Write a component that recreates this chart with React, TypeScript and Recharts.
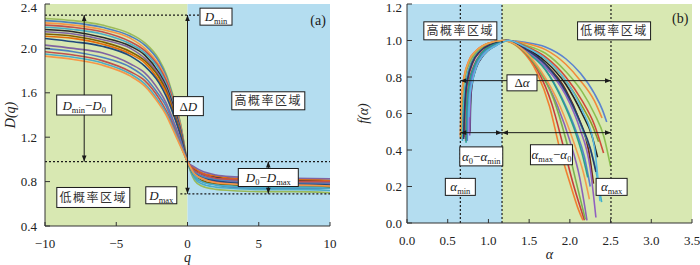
import React from 'react';
import { LineChart, Line, XAxis, YAxis, ReferenceArea, ReferenceLine, ReferenceDot } from 'recharts';

// ---------- panel (a): D(q) ----------
const qValues = [-10, -8, -6, -4, -3, -2, -1.5, -1, -0.5, 0, 0.5, 1, 2, 3, 5, 7.5, 10];
const qTicks = [-10, -5, 0, 5, 10];
const dTicks = [0.4, 0.8, 1.2, 1.6, 2.0, 2.4];

// one row per sample, values at qValues
const dqCurves = [
  [2.27, 2.25, 2.21, 2.13, 2.05, 1.9, 1.77, 1.57, 1.33, 0.98, 0.81, 0.76, 0.73, 0.72, 0.71, 0.71, 0.7],
  [2.25, 2.23, 2.19, 2.11, 2.03, 1.88, 1.75, 1.55, 1.32, 0.98, 0.84, 0.8, 0.77, 0.75, 0.74, 0.74, 0.74],
  [2.23, 2.21, 2.17, 2.09, 2.0, 1.85, 1.73, 1.53, 1.31, 0.98, 0.9, 0.86, 0.83, 0.81, 0.8, 0.8, 0.79],
  [2.21, 2.19, 2.15, 2.06, 1.98, 1.83, 1.71, 1.52, 1.29, 0.98, 0.87, 0.83, 0.8, 0.79, 0.78, 0.77, 0.77],
  [2.19, 2.17, 2.13, 2.04, 1.96, 1.81, 1.68, 1.5, 1.28, 0.98, 0.83, 0.78, 0.75, 0.74, 0.73, 0.73, 0.72],
  [2.17, 2.15, 2.1, 2.02, 1.94, 1.78, 1.66, 1.48, 1.27, 0.98, 0.91, 0.87, 0.84, 0.83, 0.82, 0.81, 0.81],
  [2.15, 2.13, 2.08, 2.0, 1.91, 1.76, 1.64, 1.46, 1.26, 0.98, 0.88, 0.85, 0.81, 0.8, 0.79, 0.78, 0.78],
  [2.13, 2.11, 2.06, 1.97, 1.89, 1.74, 1.62, 1.44, 1.24, 0.98, 0.85, 0.81, 0.78, 0.77, 0.76, 0.75, 0.75],
  [2.11, 2.09, 2.04, 1.95, 1.87, 1.71, 1.6, 1.42, 1.23, 0.98, 0.92, 0.88, 0.85, 0.83, 0.82, 0.82, 0.81],
  [2.09, 2.06, 2.02, 1.93, 1.84, 1.69, 1.57, 1.41, 1.22, 0.98, 0.88, 0.84, 0.81, 0.79, 0.78, 0.78, 0.77],
  [2.03, 2.0, 1.96, 1.86, 1.78, 1.62, 1.51, 1.35, 1.18, 0.98, 0.93, 0.895, 0.86, 0.845, 0.835, 0.83, 0.825],
  [2.0, 1.97, 1.92, 1.83, 1.74, 1.58, 1.48, 1.32, 1.16, 0.98, 0.89, 0.85, 0.82, 0.81, 0.8, 0.79, 0.79],
  [1.97, 1.94, 1.89, 1.79, 1.71, 1.55, 1.44, 1.3, 1.14, 0.98, 0.9, 0.87, 0.83, 0.82, 0.81, 0.8, 0.8],
  [1.95, 1.92, 1.87, 1.77, 1.68, 1.52, 1.42, 1.28, 1.13, 0.98, 0.85, 0.8, 0.77, 0.76, 0.75, 0.75, 0.74],
  [1.93, 1.9, 1.85, 1.75, 1.66, 1.5, 1.4, 1.26, 1.12, 0.98, 0.87, 0.83, 0.79, 0.78, 0.77, 0.77, 0.76],
];
const dqColors = [
  '#9bbb59', '#4f81bd', '#f79646', '#c0504d', '#4bacc6', '#2b2b2b', '#8064a2', '#7f6000',
  '#e46c0a', '#1f497d', '#8064a2', '#4f81bd', '#c0504d', '#4bacc6', '#f79646',
];

// ---------- panel (b): f(alpha) ----------
const aTicks = [0, 0.5, 1.0, 1.5, 2.0, 2.5, 3.0, 3.5];
const fTicks = [0, 0.2, 0.4, 0.6, 0.8, 1.0, 1.2];

// [alpha, f] pairs per curve
const faCurves: number[][][] = [
  [[0.68, 0.46], [0.69, 0.6], [0.705, 0.71], [0.73, 0.79], [0.79, 0.88], [0.88, 0.94], [1.02, 0.98], [1.2, 1.0], [1.45, 0.99], [1.7, 0.965], [1.95, 0.9], [2.13, 0.82], [2.3, 0.71], [2.4, 0.62], [2.452, 0.554]],
  [[0.655, 0.47], [0.66, 0.6], [0.675, 0.72], [0.7, 0.8], [0.76, 0.89], [0.85, 0.945], [1.0, 0.985], [1.18, 1.0], [1.45, 0.985], [1.7, 0.95], [1.95, 0.87], [2.13, 0.78], [2.3, 0.67], [2.395, 0.575]],
  [[0.66, 0.48], [0.665, 0.6], [0.68, 0.71], [0.71, 0.8], [0.77, 0.88], [0.86, 0.94], [1.0, 0.98], [1.2, 1.0], [1.45, 0.975], [1.7, 0.93], [1.95, 0.83], [2.15, 0.72], [2.3, 0.6], [2.42, 0.47], [2.5, 0.31]],
  [[0.72, 0.45], [0.725, 0.58], [0.735, 0.68], [0.76, 0.77], [0.82, 0.86], [0.91, 0.93], [1.05, 0.975], [1.23, 1.0], [1.45, 0.97], [1.7, 0.91], [1.95, 0.8], [2.15, 0.67], [2.3, 0.54], [2.414, 0.383]],
  [[0.69, 0.47], [0.7, 0.6], [0.715, 0.71], [0.74, 0.79], [0.8, 0.88], [0.89, 0.94], [1.03, 0.98], [1.21, 1.0], [1.45, 0.965], [1.7, 0.9], [1.95, 0.78], [2.15, 0.64], [2.28, 0.53], [2.353, 0.445]],
  [[0.775, 0.5], [0.778, 0.6], [0.785, 0.69], [0.8, 0.76], [0.85, 0.85], [0.94, 0.92], [1.08, 0.97], [1.25, 1.0], [1.45, 0.96], [1.7, 0.885], [1.95, 0.76], [2.15, 0.6], [2.27, 0.48], [2.34, 0.36]],
  [[0.73, 0.46], [0.735, 0.58], [0.745, 0.68], [0.77, 0.77], [0.83, 0.86], [0.92, 0.93], [1.06, 0.975], [1.24, 1.0], [1.45, 0.955], [1.7, 0.87], [1.95, 0.73], [2.12, 0.56], [2.23, 0.4], [2.29, 0.216]],
  [[0.68, 0.45], [0.69, 0.59], [0.705, 0.7], [0.73, 0.78], [0.79, 0.87], [0.88, 0.935], [1.02, 0.975], [1.2, 1.0], [1.45, 0.95], [1.7, 0.86], [1.95, 0.71], [2.15, 0.52], [2.3, 0.33], [2.39, 0.115]],
  [[0.765, 0.49], [0.768, 0.6], [0.775, 0.69], [0.79, 0.76], [0.84, 0.85], [0.93, 0.92], [1.07, 0.97], [1.24, 1.0], [1.45, 0.93], [1.65, 0.82], [1.85, 0.64], [2.0, 0.45], [2.12, 0.25], [2.21, 0.015]],
  [[0.66, 0.46], [0.665, 0.6], [0.68, 0.72], [0.705, 0.8], [0.765, 0.89], [0.855, 0.945], [1.0, 0.985], [1.17, 1.0], [1.4, 0.95], [1.6, 0.82], [1.75, 0.64], [1.88, 0.4], [2.0, 0.22], [2.1, 0.08], [2.16, 0.015]],
  [[0.7, 0.47], [0.71, 0.6], [0.725, 0.71], [0.75, 0.79], [0.81, 0.88], [0.9, 0.94], [1.04, 0.98], [1.21, 1.0], [1.4, 0.955], [1.6, 0.84], [1.78, 0.65], [1.92, 0.42], [2.05, 0.2], [2.18, 0.015]],
  [[0.74, 0.45], [0.745, 0.58], [0.755, 0.68], [0.78, 0.77], [0.84, 0.86], [0.93, 0.93], [1.07, 0.975], [1.24, 1.0], [1.45, 0.945], [1.7, 0.84], [1.92, 0.67], [2.08, 0.5], [2.18, 0.36], [2.25, 0.2]],
  [[0.77, 0.48], [0.773, 0.6], [0.78, 0.69], [0.795, 0.76], [0.845, 0.85], [0.935, 0.92], [1.075, 0.97], [1.25, 1.0], [1.45, 0.95], [1.7, 0.855], [1.95, 0.7], [2.12, 0.52], [2.25, 0.3], [2.32, 0.03]],
  [[0.725, 0.44], [0.73, 0.58], [0.74, 0.68], [0.765, 0.77], [0.825, 0.86], [0.915, 0.93], [1.055, 0.975], [1.23, 1.0], [1.45, 0.94], [1.7, 0.84], [1.9, 0.68], [2.05, 0.52], [2.15, 0.38], [2.22, 0.25]],
  [[0.695, 0.46], [0.705, 0.6], [0.72, 0.71], [0.745, 0.79], [0.805, 0.88], [0.895, 0.94], [1.035, 0.98], [1.21, 1.0], [1.45, 0.955], [1.7, 0.87], [1.95, 0.72], [2.13, 0.55], [2.25, 0.41], [2.32, 0.28]],
  [[0.665, 0.47], [0.67, 0.6], [0.685, 0.72], [0.71, 0.8], [0.77, 0.89], [0.86, 0.945], [1.005, 0.985], [1.18, 1.0], [1.4, 0.955], [1.6, 0.85], [1.8, 0.68], [1.95, 0.46], [2.08, 0.22], [2.19, 0.02]],
  [[0.658, 0.48], [0.663, 0.6], [0.678, 0.72], [0.703, 0.8], [0.763, 0.89], [0.853, 0.945], [1.0, 0.985], [1.17, 1.0], [1.45, 0.94], [1.65, 0.83], [1.88, 0.64], [2.05, 0.44], [2.17, 0.27], [2.24, 0.13]],
  [[0.76, 0.58], [0.765, 0.65], [0.775, 0.71], [0.8, 0.77], [0.855, 0.86], [0.945, 0.925], [1.085, 0.97], [1.25, 1.0], [1.45, 0.965], [1.7, 0.9], [1.95, 0.78], [2.15, 0.62], [2.3, 0.42], [2.37, 0.12]],
];
const faColors = [
  '#5b83d0', '#f28a3a', '#8cbf50', '#d04a3c', '#8a9a2a', '#222222', '#6b2a1a', '#3fb0c8', '#8a62b8',
  '#f07f30', '#c83c3c', '#5a7fd0', '#9060c0', '#2aa090', '#2a3a6a', '#7ab050', '#f39c50', '#5ab8e0',
];

const GREEN = '#d8e8b2';
const BLUE = '#b4ddf0';
const INK = '#1a1a1a';
const SERIF = '"Liberation Serif", "Times New Roman", serif';
const CJK = '"Noto Sans CJK SC", sans-serif';

const dqRows = qValues.map((q, i) => {
  const row: Record<string, number> = { q };
  dqCurves.forEach((c, k) => { row[`c${k}`] = c[i]; });
  return row;
});

type Part = [string, 'i' | 'r' | 's'];

const renderParts = (parts: Part[]) => {
  let sub = false;
  return parts.map(([t, k], i) => {
    const toSub = k === 's';
    const dy = toSub && !sub ? 3 : !toSub && sub ? -3 : 0;
    sub = toSub;
    return (
      <tspan key={i} dy={dy} fontSize={toSub ? 8.5 : 13} fontStyle={k === 'i' ? 'italic' : 'normal'}>{t}</tspan>
    );
  });
};

const boxShape = (w: number, h: number, parts: Part[] | null, cjk?: string) => (p: any) => {
  const { cx, cy } = p;
  return (
    <g>
      <rect x={cx - w / 2} y={cy - h / 2} width={w} height={h} fill="#fff" stroke={INK} strokeWidth={1} />
      {cjk ? (
        <text x={cx} y={cy + 4.5} textAnchor="middle" fontFamily={CJK} fontSize={12} letterSpacing={1.5} fill="#333">{cjk}</text>
      ) : (
        <text x={cx} y={cy + 4.5} textAnchor="middle" fontFamily={SERIF} fill={INK}>{renderParts(parts || [])}</text>
      )}
    </g>
  );
};

const plainText = (t: string) => (p: any) => (
  <text x={p.cx} y={p.cy + 5} textAnchor="middle" fontFamily={SERIF} fontSize={14} fill={INK}>{t}</text>
);

const arrowShape = (startHead: boolean, endHead: boolean) => (p: any) => {
  const { x1, y1, x2, y2 } = p;
  const dx = x2 - x1;
  const dy = y2 - y1;
  const len = Math.hypot(dx, dy) || 1;
  const ux = dx / len;
  const uy = dy / len;
  const head = (x: number, y: number, dirx: number, diry: number) => {
    const L = 6;
    const W = 2.3;
    const bx = x - dirx * L;
    const by = y - diry * L;
    return (
      <polygon
        points={`${x},${y} ${bx - diry * W},${by + dirx * W} ${bx + diry * W},${by - dirx * W}`}
        fill={INK}
      />
    );
  };
  return (
    <g>
      <line x1={x1} y1={y1} x2={x2} y2={y2} stroke={INK} strokeWidth={1} />
      {startHead && head(x1, y1, -ux, -uy)}
      {endHead && head(x2, y2, ux, uy)}
    </g>
  );
};

const tickStyle = { fontSize: 13, fill: '#222', fontFamily: SERIF };
const titleStyle = { fontSize: 14, fill: '#222', fontFamily: SERIF, fontStyle: 'italic', textAnchor: 'middle' } as any;
const dotted = { stroke: INK, strokeWidth: 1.2, strokeDasharray: '2 2' };

const fmtQ = (v: number) => (v < 0 ? `\u2212${Math.abs(v)}` : String(v));
const fmt1 = (v: number) => v.toFixed(1);

// y tick label; the top one is nudged down so it stays inside the page
const YTick = (p: any) => (
  <text x={p.x} y={Math.max(p.y, 7)} dy={4.5} textAnchor="end" fontFamily={SERIF} fontSize={13} fill="#222">
    {fmt1(p.payload.value)}
  </text>
);

const PanelA = () => (
  <LineChart width={350} height={265} data={dqRows} margin={{ top: 4, right: 20, bottom: 0, left: 0 }}>
    <XAxis dataKey="q" type="number" domain={[-10, 10]} ticks={qTicks} interval={0} allowDataOverflow
      height={39} tickSize={-4} tickMargin={17} stroke="#333" tick={tickStyle} tickFormatter={fmtQ}
      label={{ value: 'q', position: 'insideBottom', offset: 3, style: titleStyle }} />
    <XAxis xAxisId="top" orientation="top" type="number" domain={[-10, 10]} height={0} tick={false} tickLine={false} stroke="#333" />
    <YAxis type="number" domain={[0.4, 2.4]} ticks={dTicks} interval={0} allowDataOverflow width={45}
      tickSize={-5} tickMargin={13} stroke="#333" tick={<YTick />}
      label={{ value: 'D(q)', angle: -90, position: 'insideLeft', offset: 10, style: titleStyle }} />
    <YAxis yAxisId="right" orientation="right" width={0} tick={false} tickLine={false} stroke="#333" />
    <ReferenceArea x1={-10} x2={0} y1={0.4} y2={2.4} fill={GREEN} fillOpacity={1} stroke="none" />
    <ReferenceArea x1={0} x2={10} y1={0.4} y2={2.4} fill={BLUE} fillOpacity={1} stroke="none" />
    {dqCurves.map((_c, k) => (
      <Line key={k} dataKey={`c${k}`} type="monotone" stroke={dqColors[k]} strokeWidth={1.6} dot={false} isAnimationActive={false} />
    ))}
    <ReferenceLine segment={[{ x: -10, y: 2.3 }, { x: 1, y: 2.3 }]} {...dotted} />
    <ReferenceLine y={0.98} {...dotted} />
    <ReferenceLine segment={[{ x: -0.5, y: 0.69 }, { x: 10, y: 0.69 }]} {...dotted} />
    <ReferenceLine segment={[{ x: -7.25, y: 2.3 }, { x: -7.25, y: 0.98 }]} shape={arrowShape(true, true)} />
    <ReferenceLine segment={[{ x: 0, y: 2.3 }, { x: 0, y: 0.69 }]} shape={arrowShape(true, true)} />
    <ReferenceLine segment={[{ x: 5.67, y: 0.9 }, { x: 5.67, y: 0.98 }]} shape={arrowShape(false, true)} />
    <ReferenceLine segment={[{ x: 5.67, y: 0.77 }, { x: 5.67, y: 0.69 }]} shape={arrowShape(false, true)} />
    <ReferenceDot x={2.0} y={2.286} r={1} shape={boxShape(32, 17, [['D', 'i'], ['min', 's']])} />
    <ReferenceDot x={-7.25} y={1.49} r={1} shape={boxShape(55, 20, [['D', 'i'], ['min', 's'], ['\u2212', 'r'], ['D', 'i'], ['0', 's']])} />
    <ReferenceDot x={0.06} y={1.48} r={1} shape={boxShape(30, 19, [['\u0394', 'r'], ['D', 'i']])} />
    <ReferenceDot x={5.67} y={0.837} r={1} shape={boxShape(60, 18, [['D', 'i'], ['0', 's'], ['\u2212', 'r'], ['D', 'i'], ['max', 's']])} />
    <ReferenceDot x={-1.84} y={0.677} r={1} shape={boxShape(31, 17, [['D', 'i'], ['max', 's']])} />
    <ReferenceDot x={5.67} y={1.528} r={1} shape={boxShape(73, 18, null, '高概率区域')} />
    <ReferenceDot x={-6.61} y={0.657} r={1} shape={boxShape(73, 20, null, '低概率区域')} />
    <ReferenceDot x={9.16} y={2.256} r={1} shape={plainText('(a)')} />
  </LineChart>
);

const PanelB = () => (
  <LineChart width={350} height={265} margin={{ top: 4, right: 8, bottom: 0, left: 0 }}>
    <XAxis dataKey="a" type="number" domain={[0, 3.5]} ticks={aTicks} interval={0} allowDataOverflow
      height={42} tickSize={-4} tickMargin={17} stroke="#333" tick={tickStyle} tickFormatter={fmt1}
      label={{ value: '\u03b1', position: 'insideBottom', offset: 6, style: titleStyle }} />
    <XAxis xAxisId="top" orientation="top" type="number" domain={[0, 3.5]} height={0} tick={false} tickLine={false} stroke="#333" />
    <YAxis type="number" domain={[0, 1.2]} ticks={fTicks} interval={0} allowDataOverflow width={57}
      tickSize={-5} tickMargin={10} stroke="#333" tick={<YTick />}
      label={{ value: 'f(\u03b1)', angle: -90, position: 'insideLeft', offset: 13, style: titleStyle }} />
    <YAxis yAxisId="right" orientation="right" width={0} tick={false} tickLine={false} stroke="#333" />
    <ReferenceArea x1={0} x2={1.167} y1={0} y2={1.2} fill={BLUE} fillOpacity={1} stroke="none" />
    <ReferenceArea x1={1.167} x2={3.5} y1={0} y2={1.2} fill={GREEN} fillOpacity={1} stroke="none" />
    {faCurves.map((c, k) => (
      <Line key={k} data={c.map(([a, f]) => ({ a, f }))} dataKey="f" type="monotone" stroke={faColors[k]}
        strokeWidth={1.6} dot={false} isAnimationActive={false} />
    ))}
    <ReferenceLine x={0.655} {...dotted} />
    <ReferenceLine x={1.167} {...dotted} />
    <ReferenceLine x={2.505} {...dotted} />
    <ReferenceLine segment={[{ x: 0.655, y: 0.78 }, { x: 2.505, y: 0.78 }]} shape={arrowShape(true, true)} />
    <ReferenceLine segment={[{ x: 0.655, y: 0.495 }, { x: 1.167, y: 0.495 }]} shape={arrowShape(true, true)} />
    <ReferenceLine segment={[{ x: 1.167, y: 0.495 }, { x: 2.505, y: 0.495 }]} shape={arrowShape(true, true)} />
    <ReferenceDot x={0.655} y={1.053} r={1} shape={boxShape(73, 18, null, '高概率区域')} />
    <ReferenceDot x={2.543} y={1.053} r={1} shape={boxShape(73, 18, null, '低概率区域')} />
    <ReferenceDot x={1.412} y={0.768} r={1} shape={boxShape(30, 16, [['\u0394', 'r'], ['\u03b1', 'i']])} />
    <ReferenceDot x={0.912} y={0.365} r={1} shape={boxShape(43, 19, [['\u03b1', 'i'], ['0', 's'], ['\u2212', 'r'], ['\u03b1', 'i'], ['min', 's']])} />
    <ReferenceDot x={1.774} y={0.374} r={1} shape={boxShape(42, 20, [['\u03b1', 'i'], ['max', 's'], ['\u2212', 'r'], ['\u03b1', 'i'], ['0', 's']])} />
    <ReferenceDot x={0.655} y={0.198} r={1} shape={boxShape(30, 17, [['\u03b1', 'i'], ['min', 's']])} />
    <ReferenceDot x={2.513} y={0.198} r={1} shape={boxShape(31, 17, [['\u03b1', 'i'], ['max', 's']])} />
    <ReferenceDot x={3.356} y={1.122} r={1} shape={plainText('(b)')} />
  </LineChart>
);

export default function App() {
  return (
    <div style={{ position: 'absolute', left: 0, top: 0, width: 700, height: 265, background: '#fff', overflow: 'hidden' }}>
      <div style={{ position: 'absolute', left: 0, top: 0 }}>
        <PanelA />
      </div>
      <div style={{ position: 'absolute', left: 350, top: 0 }}>
        <PanelB />
      </div>
    </div>
  );
}
